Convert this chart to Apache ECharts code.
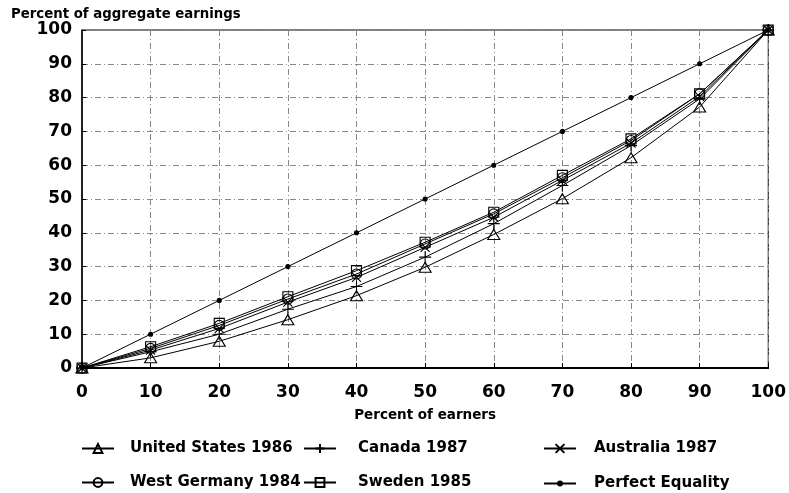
<!DOCTYPE html>
<html>
<head>
<meta charset="utf-8">
<script src="https://cdn.jsdelivr.net/npm/echarts@6/dist/echarts.min.js"></script>
<style>html,body{margin:0;padding:0;background:#fff}#c{width:789px;height:493px}</style>
</head>
<body>
<div id="c"></div>
<script>
const earners = [0, 10, 20, 30, 40, 50, 60, 70, 80, 90, 100];
const unitedStates1986 = [0, 3.0, 7.9, 14.3, 21.4, 29.8, 39.5, 50.1, 62.2, 77.2, 100];
const canada1987 = [0, 4.8, 10.0, 17.4, 24.1, 32.8, 42.7, 54.0, 65.8, 79.6, 100];
const australia1987 = [0, 5.3, 11.7, 19.5, 26.8, 35.7, 44.6, 55.5, 66.5, 80.3, 100];
const westGermany1984 = [0, 5.8, 12.6, 20.4, 27.8, 36.7, 45.6, 56.3, 67.3, 81.1, 100];
const sweden1985 = [0, 6.3, 13.2, 21.1, 28.8, 37.2, 46.1, 57.0, 67.8, 81.1, 100];
const perfectEquality = [0, 10, 20, 30, 40, 50, 60, 70, 80, 90, 100];
const seriesNames = ['United States 1986', 'Canada 1987', 'Australia 1987', 'West Germany 1984', 'Sweden 1985', 'Perfect Equality'];

const FONT = 'DejaVu Sans';
const pairs = vals => earners.map((x, i) => [x, vals[i]]);

const symbols = {
  'United States 1986': {symbol: 'triangle', size: [12, 10]},
  'Canada 1987': {symbol: 'path://M0,5L10,5M5,0L5,10', size: 12},
  'Australia 1987': {symbol: 'path://M0,0L10,10M10,0L0,10', size: 9},
  'West Germany 1984': {symbol: 'circle', size: 10},
  'Sweden 1985': {symbol: 'rect', size: 10},
  'Perfect Equality': {symbol: 'circle', size: 4, filled: true}
};
const valuesByName = {
  'United States 1986': unitedStates1986,
  'Canada 1987': canada1987,
  'Australia 1987': australia1987,
  'West Germany 1984': westGermany1984,
  'Sweden 1985': sweden1985,
  'Perfect Equality': perfectEquality
};

const series = seriesNames.map(name => {
  const s = symbols[name];
  return {
    name: name,
    type: 'line',
    data: pairs(valuesByName[name]),
    symbol: s.symbol,
    symbolSize: s.size,
    showAllSymbol: true,
    lineStyle: {color: '#000', width: 1},
    itemStyle: {color: s.filled ? '#000' : 'rgba(0,0,0,0)', borderColor: '#000', borderWidth: 1.1},
    emphasis: {disabled: true},
    animation: false
  };
});

const legendPos = [
  {left: 76, top: 436, pad: 11, h: 11}, {left: 298, top: 436, pad: 17, h: 11}, {left: 538, top: 436, pad: 13, h: 11},
  {left: 76, top: 470, pad: 11, h: 11}, {left: 298, top: 470, pad: 17, h: 11}, {left: 538, top: 471, pad: 13, h: 5}
];
const legends = seriesNames.map((name, i) => ({
  data: [name],
  left: legendPos[i].left,
  top: legendPos[i].top,
  itemWidth: 32,
  itemHeight: legendPos[i].h,
  selectedMode: false,
  textStyle: {fontFamily: FONT, fontWeight: 'bold', fontSize: 15, color: '#000', padding: [0, 0, 0, legendPos[i].pad]}
}));

const chart = echarts.init(document.getElementById('c'), null, {renderer: 'canvas'});
chart.setOption({
  backgroundColor: '#fff',
  animation: false,
  title: {
    text: 'Percent of aggregate earnings',
    left: 6, top: 3,
    textStyle: {fontFamily: FONT, fontWeight: 'bold', fontSize: 13.3, color: '#000'}
  },
  legend: legends,
  grid: {left: 82, right: 17, top: 30, bottom: 125, show: true, borderColor: '#000', borderWidth: 1},
  xAxis: {
    type: 'value', min: 0, max: 100, interval: 10,
    name: 'Percent of earners', nameLocation: 'middle', nameGap: 40,
    nameTextStyle: {fontFamily: FONT, fontWeight: 'bold', fontSize: 13.5, color: '#000'},
    axisLine: {lineStyle: {color: '#000', width: 2}},
    axisTick: {inside: true, length: 5, lineStyle: {color: '#000'}},
    axisLabel: {fontFamily: FONT, fontWeight: 'bold', fontSize: 17, color: '#000', margin: 16},
    splitLine: {show: true, lineStyle: {color: '#888', type: [6, 3, 1, 3], width: 1}}
  },
  yAxis: {
    type: 'value', min: 0, max: 100, interval: 10,
    axisLine: {lineStyle: {color: '#000', width: 1.5}},
    axisTick: {inside: true, length: 4, lineStyle: {color: '#000'}},
    axisLabel: {fontFamily: FONT, fontWeight: 'bold', fontSize: 17, color: '#000', margin: 10},
    splitLine: {show: true, lineStyle: {color: '#888', type: [6, 3, 1, 3], width: 1}}
  },
  series: series
});
</script>
</body>
</html>
